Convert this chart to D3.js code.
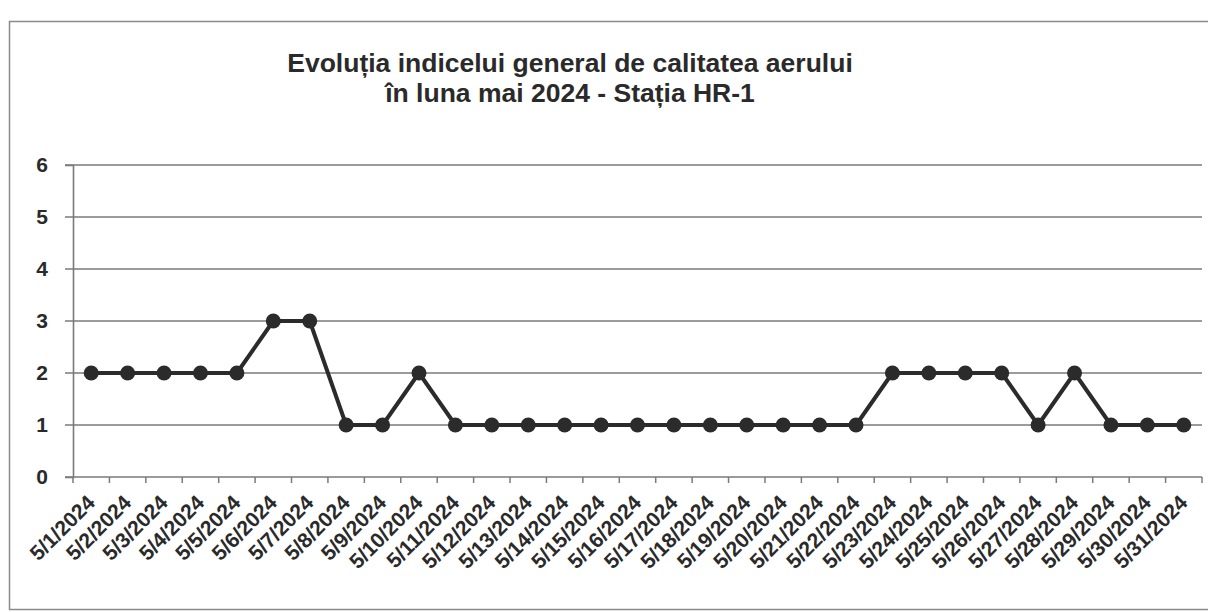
<!DOCTYPE html>
<html lang="ro">
  <head>
    <meta charset="utf-8">
    <title>Evoluția indicelui general de calitatea aerului</title>
    <script src="https://d3js.org/d3.v7.min.js"></script>
    <style>
      body { margin: 0; background: #fff; }
      svg text { font-family: "Liberation Sans", Arial, sans-serif; font-weight: bold; fill: #2a2a2a; }
    </style>
  </head>
  <body>
    <div id="chart"></div>
    <script>
      // data
      const dates = d3.range(1, 32).map(d => "5/" + d + "/2024")
      const indexValues = [2, 2, 2, 2, 2, 3, 3, 1, 1, 2, 1, 1, 1, 1, 1, 1, 1, 1, 1, 1, 1, 1, 2, 2, 2, 2, 1, 2, 1, 1, 1]
      const yTicks = [0, 1, 2, 3, 4, 5, 6]
      const titleLines = ["Evoluția indicelui general de calitatea aerului", "în luna mai 2024 - Stația HR-1"]

      const width = 1208, height = 612
      const margin = { left: 73, right: 6, top: 165, bottom: 135 }

      const svg = d3.select("#chart").append("svg")
          .attr("width", width)
          .attr("height", height)

      // outer frame of the chart
      svg.append("rect")
          .attr("x", 9.5).attr("y", 21.5)
          .attr("width", 1220).attr("height", 588)
          .attr("fill", "none")
          .attr("stroke", "#8a8a8a")
          .attr("stroke-width", 1.5)

      const x = d3.scaleBand()
          .domain(dates)
          .range([margin.left, width - margin.right])

      const y = d3.scaleLinear()
          .domain([0, 6])
          .range([height - margin.bottom, margin.top])

      // gridlines
      svg.append("g")
        .selectAll("line")
        .data(yTicks)
        .join("line")
          .attr("x1", margin.left - 8)
          .attr("x2", width - margin.right)
          .attr("y1", d => y(d))
          .attr("y2", d => y(d))
          .attr("stroke", "#7a7a7a")
          .attr("stroke-width", 1.6)

      // y axis
      const yAxis = svg.append("g")
          .attr("transform", "translate(" + margin.left + ",0)")
          .call(d3.axisLeft(y).tickValues(yTicks).tickFormat(d3.format("d")).tickSize(8).tickPadding(17))
      yAxis.select(".domain").attr("stroke", "#7a7a7a").attr("stroke-width", 1.6)
      yAxis.selectAll(".tick line").remove()
      yAxis.selectAll("text").style("font-size", "21px").attr("fill", "#2a2a2a")

      // x axis with ticks between categories
      const xAxis = svg.append("g")
          .attr("transform", "translate(0," + y(0) + ")")
      xAxis.append("g")
        .selectAll("line")
        .data(d3.range(dates.length + 1))
        .join("line")
          .attr("x1", i => margin.left + i * x.step())
          .attr("x2", i => margin.left + i * x.step())
          .attr("y1", 0)
          .attr("y2", 6)
          .attr("stroke", "#7a7a7a")
          .attr("stroke-width", 1.5)
      xAxis.selectAll("text")
        .data(dates)
        .join("text")
          .attr("transform", d => "translate(" + (x(d) + x.bandwidth() / 2 + 5) + ",27) rotate(-45)")
          .attr("text-anchor", "end")
          .style("font-size", "21px")
          .text(d => d)

      // series
      const line = d3.line()
          .x((d, i) => x(dates[i]) + x.bandwidth() / 2)
          .y(d => y(d))

      svg.append("path")
          .datum(indexValues)
          .attr("d", line)
          .attr("fill", "none")
          .attr("stroke", "#2b2b2b")
          .attr("stroke-width", 4)
          .attr("stroke-linejoin", "round")

      svg.append("g")
        .selectAll("circle")
        .data(indexValues)
        .join("circle")
          .attr("cx", (d, i) => x(dates[i]) + x.bandwidth() / 2)
          .attr("cy", d => y(d))
          .attr("r", 7.5)
          .attr("fill", "#2b2b2b")

      // title
      svg.append("text")
          .attr("x", 570)
          .attr("y", 72)
          .attr("text-anchor", "middle")
          .style("font-size", "26.5px")
        .selectAll("tspan")
        .data(titleLines)
        .join("tspan")
          .attr("x", 570)
          .attr("dy", (d, i) => i === 0 ? 0 : 30)
          .text(d => d)
    </script>
  </body>
</html>
